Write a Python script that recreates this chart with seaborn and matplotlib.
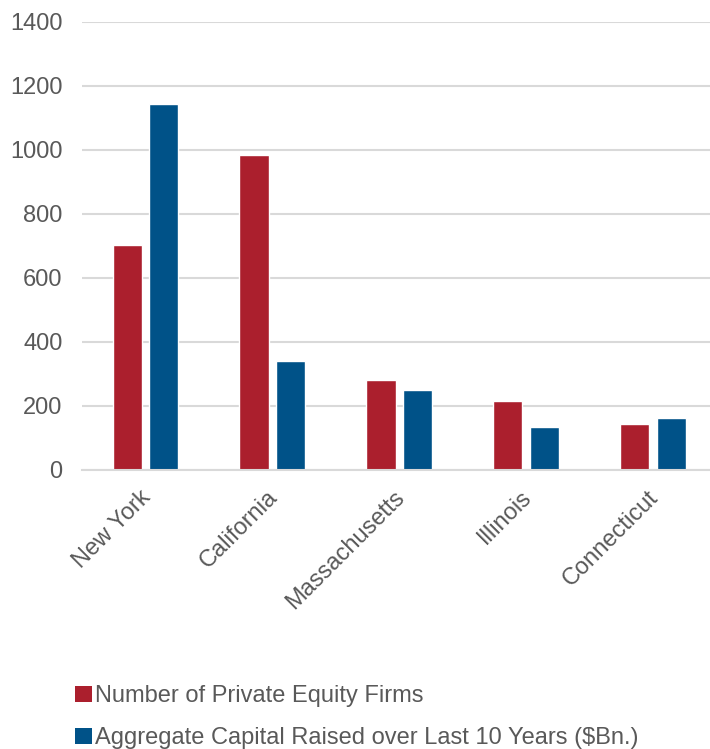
import matplotlib
matplotlib.use("Agg")
import matplotlib.pyplot as plt
from matplotlib.patches import Patch
from matplotlib.transforms import ScaledTranslation
import seaborn as sns
import pandas as pd

states = ["New York", "California", "Massachusetts", "Illinois", "Connecticut"]
pe_firms = [702, 983, 282, 215, 144]
capital_raised = [1143, 340, 249, 133, 163]
series_names = ["Number of Private Equity Firms",
                "Aggregate Capital Raised over Last 10 Years ($Bn.)"]
colors = ["#AB1F2D", "#005288"]
y_ticks = [0, 200, 400, 600, 800, 1000, 1200, 1400]

df = pd.DataFrame({
    "State": states * 2,
    "Series": [series_names[0]] * len(states) + [series_names[1]] * len(states),
    "Value": pe_firms + capital_raised,
})

sns.set_theme(style="white")
plt.rcParams["font.family"] = ["Liberation Sans", "DejaVu Sans"]
text_color = "#595959"

fig = plt.figure(figsize=(7.10, 7.49), dpi=100)
ax = fig.add_axes([82 / 710, 279 / 749, 628 / 710, 448 / 749])

sns.barplot(data=df, x="State", y="Value", hue="Series", order=states,
            hue_order=series_names, palette=colors, width=0.576, gap=0.2,
            saturation=1, ax=ax, legend=False, errorbar=None)

ax.set_ylim(0, 1400)
ax.set_xlim(-0.5, 4.45)
ax.set_yticks(y_ticks)
ax.set_yticklabels([str(t) for t in y_ticks], fontsize=17, color=text_color)
ax.grid(axis="y", color="#D9D9D9", linewidth=1.5)
ax.set_axisbelow(True)
for side in ["top", "right", "left"]:
    ax.spines[side].set_visible(False)
ax.spines["bottom"].set_color("#D9D9D9")
ax.spines["bottom"].set_linewidth(1.5)
ax.tick_params(axis="y", length=0, pad=14)
ax.tick_params(axis="x", length=0, pad=12)
ax.set_xlabel("")
ax.set_ylabel("")
ax.set_xticks(range(len(states)))
ax.set_xticklabels(states, rotation=45, ha="right", va="top",
                   rotation_mode="anchor", fontsize=17, color=text_color)
shift = ScaledTranslation(-6 / 100, 0, fig.dpi_scale_trans)
for lbl in ax.get_xticklabels():
    lbl.set_transform(lbl.get_transform() + shift)

handles = [Patch(facecolor=c, edgecolor="none") for c in colors]
fig.legend(handles, series_names, loc="upper left",
           bbox_to_anchor=(54 / 710, 1 - 664 / 749), frameon=False,
           fontsize=17, labelcolor=text_color, handlelength=0.7,
           handleheight=0.7, handletextpad=0.15, labelspacing=0.85)

fig.savefig("out.png", dpi=100)
